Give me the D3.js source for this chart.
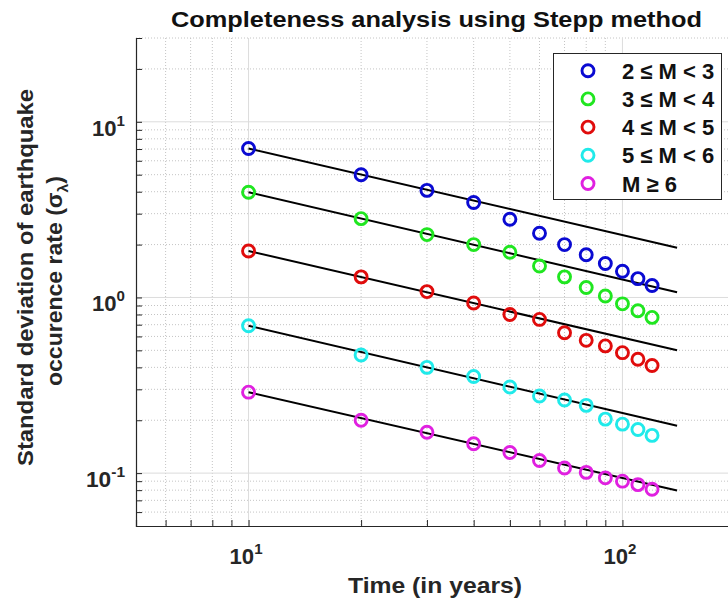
<!DOCTYPE html>
<html>
<head>
<meta charset="utf-8">
<script src="https://cdn.jsdelivr.net/npm/d3@7"></script>
<style>
  body { margin: 0; background: #fff; }
  text { font-family: "Liberation Sans", Arial, sans-serif; font-weight: bold; fill: #262626; }
</style>
</head>
<body>
<script>
//Size of the picture
var w = 728;
var h = 603;

//Data
var times = [10, 20, 30, 40, 50, 60, 70, 80, 90, 100, 110, 120];
var sigmaM2 = [7.05, 5.0, 4.07, 3.47, 2.79, 2.32, 2.0, 1.75, 1.56, 1.41, 1.28, 1.17];
var sigmaM3 = [3.97, 2.81, 2.28, 2.0, 1.81, 1.51, 1.31, 1.14, 1.02, 0.92, 0.84, 0.77];
var sigmaM4 = [1.84, 1.31, 1.08, 0.93, 0.80, 0.75, 0.63, 0.57, 0.53, 0.485, 0.445, 0.41];
var sigmaM5 = [0.69, 0.47, 0.40, 0.355, 0.309, 0.275, 0.261, 0.243, 0.203, 0.19, 0.177, 0.164];
var sigmaM6 = [0.289, 0.20, 0.171, 0.147, 0.131, 0.118, 0.107, 0.101, 0.094, 0.090, 0.086, 0.081];

//Fitted lines (start and end value) at these times
var fitTimes = [10, 140];
var fitM2 = [7.05, 1.92];
var fitM3 = [3.97, 1.07];
var fitM4 = [1.84, 0.50];
var fitM5 = [0.69, 0.186];
var fitM6 = [0.289, 0.0796];

var legendLabels = ["2 \u2264 M < 3", "3 \u2264 M < 4", "4 \u2264 M < 5", "5 \u2264 M < 6", "M \u2265 6"];
var colors = ["#0a0ad2", "#20e620", "#e00c0c", "#20eaea", "#e020e0"];

var xMajor = [10, 100];
var xMinor = [6, 7, 8, 9, 20, 30, 40, 50, 60, 70, 80, 90];
var yMajor = [0.1, 1, 10];
var yMinor = [0.06, 0.07, 0.08, 0.09, 0.2, 0.3, 0.4, 0.5, 0.6, 0.7, 0.8, 0.9, 2, 3, 4, 5, 6, 7, 8, 9, 20];

var series = [
  { values: sigmaM2, fit: fitM2 },
  { values: sigmaM3, fit: fitM3 },
  { values: sigmaM4, fit: fitM4 },
  { values: sigmaM5, fit: fitM5 },
  { values: sigmaM6, fit: fitM6 }
];

//Plot box (names avoid window.top)
var boxL = 136, boxR = 735, boxT = 38, boxB = 526;

var xScale = d3.scaleLog().domain([5, 200]).range([boxL, boxR]);
var yScale = d3.scaleLog().domain([0.05, 30]).range([boxB, boxT]);

var svg = d3.select("body")
  .append("svg")
  .attr("width", w)
  .attr("height", h);

svg.append("rect").attr("width", w).attr("height", h).attr("fill", "#fff");

//Grid: minor dotted, major solid
var grid = svg.append("g");
grid.selectAll(".xminor").data(xMinor).enter().append("line")
  .attr("x1", d => xScale(d)).attr("x2", d => xScale(d))
  .attr("y1", boxT).attr("y2", boxB)
  .attr("stroke", "#c4c4c4").attr("stroke-dasharray", "1,2");
grid.selectAll(".yminor").data(yMinor.concat([30])).enter().append("line")
  .attr("x1", boxL).attr("x2", boxR)
  .attr("y1", d => yScale(d)).attr("y2", d => yScale(d))
  .attr("stroke", "#c4c4c4").attr("stroke-dasharray", "1,2");
grid.selectAll(".xmajor").data(xMajor).enter().append("line")
  .attr("x1", d => xScale(d)).attr("x2", d => xScale(d))
  .attr("y1", boxT).attr("y2", boxB)
  .attr("stroke", "#dcdcdc");
grid.selectAll(".ymajor").data(yMajor).enter().append("line")
  .attr("x1", boxL).attr("x2", boxR)
  .attr("y1", d => yScale(d)).attr("y2", d => yScale(d))
  .attr("stroke", "#dcdcdc");

//Axes with inward ticks, labels drawn separately
var xAxis = d3.axisBottom(xScale)
  .tickValues(xMajor.concat(xMinor))
  .tickSize(-6)
  .tickFormat("");
var yAxis = d3.axisLeft(yScale)
  .tickValues(yMajor.concat(yMinor))
  .tickSize(-6)
  .tickFormat("");

var gx = svg.append("g")
  .attr("transform", "translate(0," + boxB + ")")
  .call(xAxis);
var gy = svg.append("g")
  .attr("transform", "translate(" + boxL + ",0)")
  .call(yAxis);
[gx, gy].forEach(function(g) {
  g.select(".domain").attr("stroke", "#262626").attr("stroke-width", 1.2);
  g.selectAll(".tick line").attr("stroke", "#262626");
});

//Tick labels 10^n
function labLen(d) { return d < 1 ? 39 : 33; }
function powLabel(sel) {
  sel.style("font-size", "22px")
    .attr("textLength", labLen)
    .attr("lengthAdjust", "spacingAndGlyphs")
    .each(function(d) {
      var t = d3.select(this);
      t.append("tspan").text("10");
      t.append("tspan").attr("dy", -10).style("font-size", "15px").text(Math.round(Math.log10(d)));
    });
}
svg.selectAll(".xlab").data(xMajor).enter().append("text")
  .attr("x", d => xScale(d) - 19)
  .attr("y", 564)
  .call(powLabel);

svg.selectAll(".ylab").data(yMajor).enter().append("text")
  .attr("x", d => 125 - labLen(d))
  .attr("y", d => yScale(d) + 14)
  .call(powLabel);

//Fit lines
var line = d3.line()
  .x(d => xScale(d[0]))
  .y(d => yScale(d[1]));

svg.selectAll(".fit").data(series).enter().append("path")
  .attr("d", s => line(fitTimes.map((t, i) => [t, s.fit[i]])))
  .attr("fill", "none")
  .attr("stroke", "#000")
  .attr("stroke-width", 2);

//Markers
series.forEach(function(s, i) {
  svg.append("g").selectAll("circle")
    .data(s.values)
    .enter()
    .append("circle")
    .attr("cx", (d, j) => xScale(times[j]))
    .attr("cy", d => yScale(d))
    .attr("r", 6)
    .attr("fill", "none")
    .attr("stroke", colors[i])
    .attr("stroke-width", 2.9);
});

//Legend
var legend = svg.append("g");
legend.append("rect")
  .attr("x", 553.5).attr("y", 53.5)
  .attr("width", 168).attr("height", 146)
  .attr("fill", "#fff")
  .attr("stroke", "#262626")
  .attr("stroke-width", 1);
legendLabels.forEach(function(lbl, i) {
  var yy = 70.7 + i * 28.2;
  legend.append("circle")
    .attr("cx", 588).attr("cy", yy).attr("r", 6)
    .attr("fill", "none").attr("stroke", colors[i]).attr("stroke-width", 2.9);
  legend.append("text")
    .attr("x", 622).attr("y", yy + 8)
    .style("font-size", "22px")
    .style("fill", "#111")
    .text(lbl);
});

//Title and axis labels
svg.append("text")
  .attr("x", 171).attr("y", 27)
  .attr("textLength", 531)
  .attr("lengthAdjust", "spacingAndGlyphs")
  .style("font-size", "22px")
  .style("fill", "#111")
  .text("Completeness analysis using Stepp method");

svg.append("text")
  .attr("x", 348).attr("y", 593)
  .attr("textLength", 174)
  .attr("lengthAdjust", "spacingAndGlyphs")
  .style("font-size", "22px")
  .text("Time (in years)");

svg.append("text")
  .attr("transform", "translate(33,466) rotate(-90)")
  .attr("textLength", 377)
  .attr("lengthAdjust", "spacingAndGlyphs")
  .style("font-size", "22px")
  .text("Standard deviation of earthquake");

var l2 = svg.append("text")
  .attr("transform", "translate(62,386) rotate(-90)")
  .attr("textLength", 210)
  .attr("lengthAdjust", "spacingAndGlyphs")
  .style("font-size", "22px");
l2.append("tspan").text("occurence rate (\u03c3");
l2.append("tspan").attr("dy", 6).style("font-size", "15px").text("\u03bb");
l2.append("tspan").attr("dy", -6).text(")");
</script>
</body>
</html>
